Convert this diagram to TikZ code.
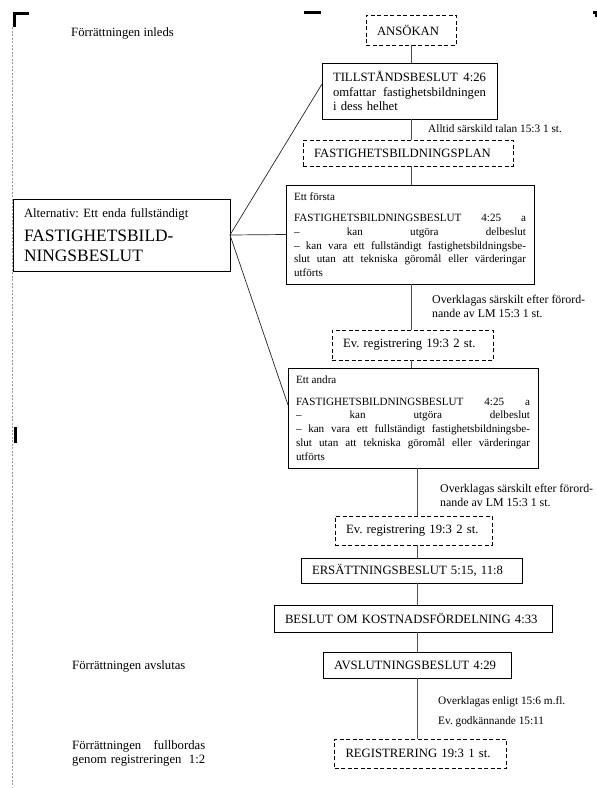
\documentclass[tikz,border=0pt]{standalone}
\usepackage{fontspec}
\setmainfont{Liberation Serif}
\usetikzlibrary{positioning,calc}
\definecolor{frmgray}{HTML}{9A9A9A}
\definecolor{frmline}{HTML}{505050}
\newcommand{\fnorm}{\fontsize{12.7}{14.6}\selectfont}
\newcommand{\fdel}{\fontsize{11.1}{13.7}\selectfont}
\newcommand{\fnote}{\fontsize{11.3}{14}\selectfont}
\newcommand{\fklag}{\fontsize{11.9}{14}\selectfont}
\newcommand{\fbig}{\fontsize{17.4}{20}\selectfont}
\frenchspacing

\begin{document}
\begin{tikzpicture}[x=1pt, y=-1pt,
    node distance=20pt,
    beslut/.style={rectangle, draw=black, line width=0.8pt, outer sep=0pt, inner xsep=11pt, inner ysep=3pt, font=\fnorm, align=left},
    regbox/.style={beslut, dash pattern=on 4pt off 2.5pt},
    delbox/.style={beslut, font=\fdel, align=justify, inner xsep=8pt, text width=232pt, minimum height=99pt},
    note/.style={font=\fnote, align=left, inner sep=0pt, anchor=west},
    side/.style={font=\fnorm, align=left, inner sep=0pt, anchor=west},
    link/.style={draw=frmline, line width=0.9pt},
    branch/.style={draw=black!85, line width=0.7pt}
]
    \useasboundingbox (0,0) rectangle (597,788);

    % Page marks
    \draw [frmgray, dash pattern=on 2pt off 1.5pt, line width=0.6pt] (12.5,27) -- (12.5,788);
    \fill (13,11.5) rectangle (29,14.5);
    \fill (13,11.5) rectangle (15.5,27);
    \fill (304,11) rectangle (321,14);
    \fill (593,11) rectangle (597,14);
    \fill (595,11) rectangle (597,17);
    \fill (13.5,427) rectangle (17,443);

    % Main chain
    \node (ansok) [regbox, text width=68pt, minimum height=30pt] at (411,30) {ANSÖKAN};
    \node (till) [beslut, text width=153pt, minimum height=56pt, below=18pt of ansok, xshift=-1.5pt] {
        TILLSTÅNDSBESLUT\hfill 4:26\\
        omfattar\hfill fastighetsbildningen\\
        i dess helhet
    };
    \node (plan) [regbox, text width=188pt, minimum height=26pt, below=21pt of till, xshift=-1.5pt] {FASTIGHETSBILDNINGSPLAN};
    \node (forsta) [delbox, below=19pt of plan, xshift=2pt] {
        Ett första\\[8pt]
        FASTIGHETSBILDNINGSBESLUT 4:25 a\linebreak
        – kan utgöra delbeslut\linebreak
        – kan vara ett fullständigt fastighetsbildningsbe-\linebreak
        slut utan att tekniska göromål eller värderingar\linebreak
        utförts
    };
    \node (reg1) [regbox, text width=139pt, minimum height=30pt, below=46pt of forsta, xshift=2.5pt] {Ev. registrering 19:3 2 st.};
    \node (andra) [delbox, text width=234pt, minimum height=100pt, below=8pt of reg1, xshift=0.5pt] {
        Ett andra\\[8pt]
        FASTIGHETSBILDNINGSBESLUT 4:25 a\linebreak
        – kan utgöra delbeslut\linebreak
        – kan vara ett fullständigt fastighetsbildningsbe-\linebreak
        slut utan att tekniska göromål eller värderingar\linebreak
        utförts
    };
    \node (reg2) [regbox, text width=135pt, minimum height=29pt, below=48pt of andra, xshift=0.5pt] {Ev. registrering 19:3 2 st.};
    \node (ersatt) [beslut, text width=199pt, minimum height=25pt, below=13pt of reg2, xshift=-2pt] {ERSÄTTNINGSBESLUT 5:15, 11:8};
    \node (kostnad) [beslut, text width=256pt, minimum height=27pt, below=22pt of ersatt, xshift=1.5pt] {BESLUT OM KOSTNADSFÖRDELNING 4:33};
    \node (avslut) [beslut, text width=166pt, minimum height=26pt, below=20pt of kostnad, xshift=4pt] {AVSLUTNINGSBESLUT 4:29};
    \node (regfin) [regbox, text width=150pt, minimum height=29pt, below=61pt of avslut, xshift=3.5pt] {REGISTRERING 19:3 1 st.};

    % Alternative
    \node (alt) [beslut, text width=195pt, minimum height=72pt, anchor=north west] at (13,199) {
        Alternativ: Ett enda fullständigt\\[4pt]
        \fbig FASTIGHETSBILD-\\
        NINGSBESLUT\par
    };

    % Side texts
    \node (inleds) [side] at (71,33) {Förrättningen inleds};
    \node (avslutas) [side] at (72,666) {Förrättningen avslutas};
    \node (fullb) [side, text width=133pt] at (72,753.5) {Förrättningen\hfill fullbordas\\ genom registreringen\hfill 1:2};

    % Notes
    \node (talan) [note] at (428,129) {Alltid särskild talan 15:3 1 st.};
    \node (klag1) [note, font=\fklag] at (432,306) {Overklagas särskilt efter förord-\\nande av LM 15:3 1 st.};
    \node (klag2) [note, font=\fklag] at (440,495) {Overklagas särskilt efter förord-\\nande av LM 15:3 1 st.};
    \node (klag3) [note] at (438,702) {Overklagas enligt 15:6 m.fl.};
    \node (godk) [note] at (438,722) {Ev. godkännande 15:11};

    % Lines
    \coordinate (spineA) at (411,0);
    \coordinate (spineB) at (417,0);
    \draw [link] (ansok.south -| spineA) -- (till.north -| spineA);
    \draw [link] (till.south -| spineA) -- (plan.north -| spineA);
    \draw [link] (plan.south -| spineA) -- (forsta.north -| spineA);
    \draw [link] (forsta.south -| spineA) -- (reg1.north -| spineA);
    \draw [link] (reg1.south -| spineA) -- (andra.north -| spineA);
    \draw [link] (andra.south -| spineB) -- (reg2.north -| spineB);
    \draw [link] (reg2.south -| spineB) -- (ersatt.north -| spineB);
    \draw [link] (ersatt.south -| spineB) -- (kostnad.north -| spineB);
    \draw [link] (kostnad.south -| spineB) -- (avslut.north -| spineB);
    \draw [link] (avslut.south -| spineB) -- (regfin.north -| spineB);
    \draw [branch] (alt.east) -- ($(till.north west)!0.375!(till.south west)$);
    \draw [branch] (alt.east) -- (forsta.west);
    \draw [branch] (alt.east) -- ($(andra.north west)!0.37!(andra.south west)$);
\end{tikzpicture}
\end{document}
